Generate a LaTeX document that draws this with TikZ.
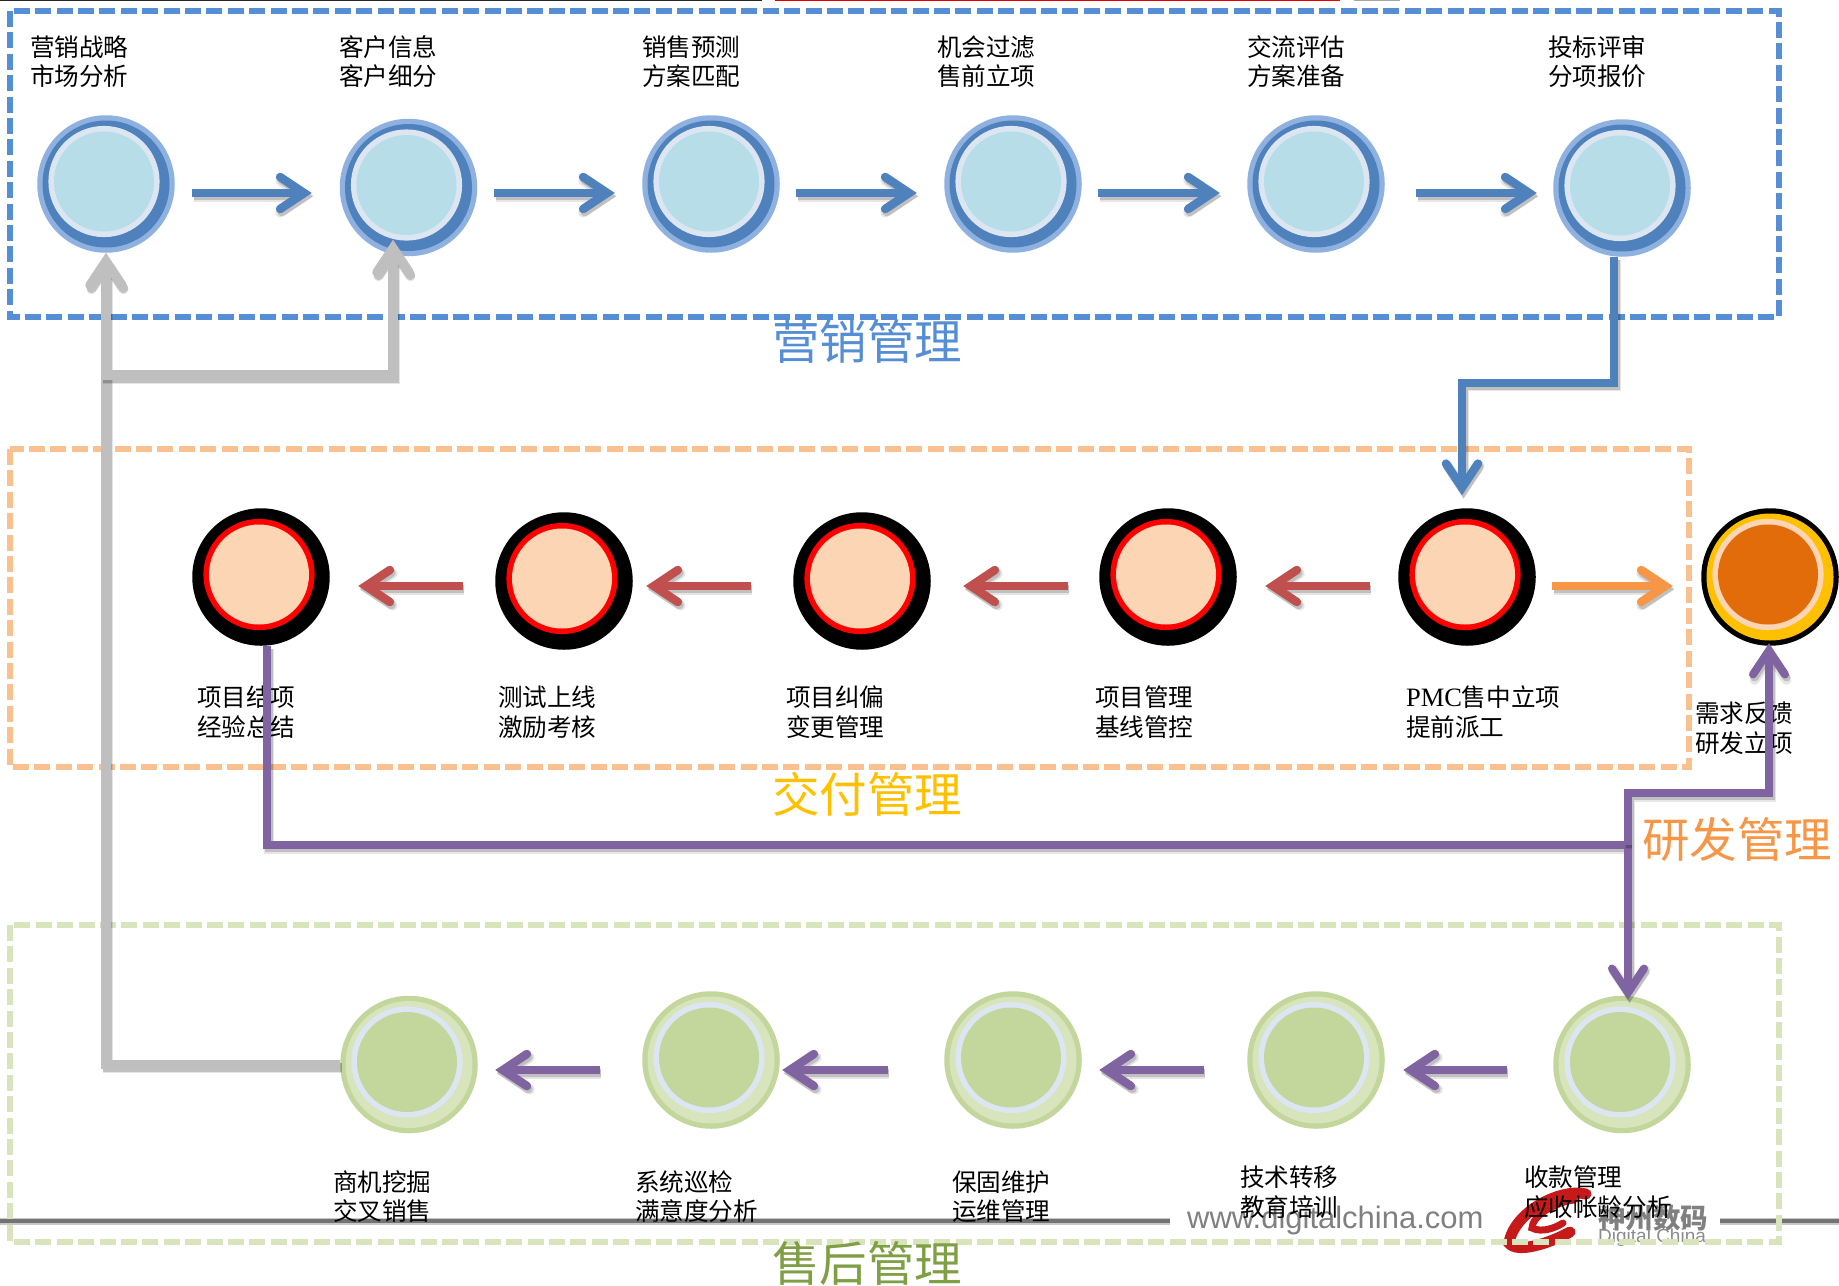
\documentclass[tikz,border=0pt]{standalone}
\usepackage{fontspec}
\setmainfont{Noto Sans CJK SC}
\newfontfamily\latinserif{Liberation Serif}
\newfontfamily\latinsans{Liberation Sans}
\usetikzlibrary{arrows.meta}
\definecolor{mblue}{HTML}{558ED5}
\definecolor{aBlue}{HTML}{4F81BD}
\definecolor{lBlue}{HTML}{8EB1E0}
\definecolor{pale}{HTML}{DCE6F2}
\definecolor{cyanin}{HTML}{B7DDE8}
\definecolor{mOrange}{HTML}{FAC090}
\definecolor{peach}{HTML}{FCD5B5}
\definecolor{aRed}{HTML}{C0504D}
\definecolor{aOrange}{HTML}{F79646}
\definecolor{aPurple}{HTML}{8064A2}
\definecolor{gGreen}{HTML}{C3D69B}
\definecolor{lGreen}{HTML}{D7E4BC}
\definecolor{aGray}{HTML}{BFBFBF}
\definecolor{gold}{HTML}{FFC000}
\definecolor{deepor}{HTML}{E36C0A}
\definecolor{tGreen}{HTML}{7F9F45}
\tikzset{
  ball/.style n args={4}{circle,inner sep=0pt,outer sep=0pt,minimum size=137.5pt,fill=#1,
    path picture={
      \fill[#2] (path picture bounding box.center) circle[radius=63.5pt];
      \fill[#3] ([shift={(-2,-2.5)}]path picture bounding box.center) circle[radius=55.6pt];
      \fill[#4] ([shift={(-2,-2.5)}]path picture bounding box.center) circle[radius=50pt];
    }},
  blueball/.style={ball={lBlue}{aBlue}{pale}{cyanin}},
  blackball/.style={ball={black}{black}{red}{peach}},
  greenball/.style={ball={gGreen}{lGreen}{pale}{gGreen}},
  orangeball/.style={ball={black}{gold}{peach}{deepor}},
  zone/.style={line width=5.5pt,dash pattern=on 16pt off 5.4pt},
  lbl/.style={align=left,inner sep=0pt,outer sep=0pt,anchor=west,text=black,
    font=\fontsize{24.6pt}{29.5pt}\selectfont},
  biglbl/.style={inner sep=0pt,outer sep=0pt,font=\fontsize{47.5pt}{50pt}\selectfont},
  flow/.style={line width=8.5pt,-{Straight Barb[length=24pt,width=32pt,line cap=round,line join=miter]}},
  plainline/.style={line width=8pt,line join=miter},
}
\newcommand\conn[2]{%
  \draw[#1,draw=black,opacity=.10,line cap=butt,line width=10pt,transform canvas={shift={(1.5pt,-3.5pt)}}] #2;
  \draw[#1,draw=black,opacity=.16,line cap=butt,transform canvas={shift={(1.5pt,-3pt)}}] #2;
  \draw[#1] #2;}
\begin{document}
\begin{tikzpicture}[x=1pt,y=-1pt]
\useasboundingbox (0,0) rectangle (1839,1285);
\fill[white] (0,0) rectangle (1839,1285);
% top edge rules
\draw[line width=1.5pt,black!85] (0,0.7) -- (762,0.7);
\draw[line width=1.5pt,red!90!black] (775,0.7) -- (1340,0.7);
\draw[line width=1.5pt,black!35] (1354,0.7) -- (1400,0.7);
% footer
\draw[line width=7pt,black!22] (0,1221) -- (1170,1221);
\draw[line width=3.5pt,black!55] (0,1221) -- (1170,1221);
\draw[line width=7pt,black!22] (1720,1221) -- (1839,1221);
\draw[line width=3.5pt,black!55] (1720,1221) -- (1839,1221);
\node[inner sep=0pt,anchor=west,text=black!50,font=\latinsans\fontsize{31pt}{32pt}\selectfont] (web) at (1187,1220) {www.digitalchina.com};
\draw[line width=11pt,line cap=round,red!75!black!90] (1586,1194) .. controls (1560,1188) and (1514,1212) .. (1509,1243) .. controls (1517,1254) and (1550,1243) .. (1570,1232);
\draw[line width=7pt,line cap=round,red!75!black!90] (1574,1200) .. controls (1555,1202) and (1532,1216) .. (1532,1228) .. controls (1542,1233) and (1555,1228) .. (1563,1223);
\node[inner sep=0pt,anchor=west,text=black!50,font=\bfseries\fontsize{27.5pt}{28pt}\selectfont] (logoa) at (1598,1218) {神州数码};
\node[inner sep=0pt,anchor=west,text=black!45,font=\latinsans\fontsize{19pt}{20pt}\selectfont] (logob) at (1598,1238) {Digital China};
% zones
\draw[zone,mblue] (10,11) rectangle (1779,317);
\draw[zone,mOrange] (10,449) rectangle (1689,767);
\draw[zone,lGreen] (10,925) rectangle (1779,1242);
% circles
\node[blueball] (a1) at (106,184) {};
\node[blueball] (a2) at (408.5,187.5) {};
\node[blueball] (a3) at (711,184) {};
\node[blueball] (a4) at (1013,184) {};
\node[blueball] (a5) at (1316,184) {};
\node[blueball] (a6) at (1622,188) {};
\node[blackball] (d1) at (261,577) {};
\node[blackball] (d2) at (564,581) {};
\node[blackball] (d3) at (862,581) {};
\node[blackball] (d4) at (1168,577) {};
\node[blackball] (d5) at (1467,577) {};
\node[orangeball] (d6) at (1770,577) {};
\node[greenball] (c1) at (409,1064.5) {};
\node[greenball] (c2) at (711,1060) {};
\node[greenball] (c3) at (1013,1060) {};
\node[greenball] (c4) at (1316,1060) {};
\node[greenball] (c5) at (1622,1064.5) {};
% labels
\node[lbl] (ta1) at (30,61.5) {营销战略\\市场分析};
\node[lbl] (ta2) at (339,61.5) {客户信息\\客户细分};
\node[lbl] (ta3) at (642,61.5) {销售预测\\方案匹配};
\node[lbl] (ta4) at (937,61.5) {机会过滤\\售前立项};
\node[lbl] (ta5) at (1247,61.5) {交流评估\\方案准备};
\node[lbl] (ta6) at (1548,61.5) {投标评审\\分项报价};
\node[lbl] (td1) at (197,712) {项目结项\\经验总结};
\node[lbl] (td2) at (498,712) {测试上线\\激励考核};
\node[lbl] (td3) at (786,712) {项目纠偏\\变更管理};
\node[lbl] (td4) at (1095,712) {项目管理\\基线管控};
\node[lbl] (td5) at (1406,712) {{\latinserif\fontsize{26.5pt}{29.5pt}\selectfont PMC}售中立项\\提前派工};
\node[lbl] (td6) at (1695,728) {需求反馈\\研发立项};
\node[lbl] (tc1) at (333,1196.5) {商机挖掘\\交叉销售};
\node[lbl] (tc2) at (635,1196.5) {系统巡检\\满意度分析};
\node[lbl] (tc3) at (952,1196.5) {保固维护\\运维管理};
\node[lbl] (tc4) at (1240,1192) {技术转移\\教育培训};
\node[lbl] (tc5) at (1524,1192) {收款管理\\应收帐龄分析};
\node[biglbl,text=mblue] (za) at (867,341) {营销管理};
\node[biglbl,text=gold] (zd) at (867,794) {交付管理};
\node[biglbl,text=aOrange] (zr) at (1737,839) {研发管理};
\node[biglbl,text=tGreen] (zc) at (867,1263) {售后管理};
% top flow
\conn{flow,aBlue}{([shift={(17.5,9)}]a1.east) -- ([shift={(-28,5.5)}]a2.west)}
\conn{flow,aBlue}{([shift={(17,5.5)}]a2.east) -- ([shift={(-27.5,9)}]a3.west)}
\conn{flow,aBlue}{([shift={(16.5,9)}]a3.east) -- ([shift={(-27.5,9)}]a4.west)}
\conn{flow,aBlue}{([shift={(16.5,9)}]a4.east) -- ([shift={(-27.5,9)}]a5.west)}
\conn{flow,aBlue}{([shift={(31.5,9)}]a5.east) -- ([shift={(-16.5,5)}]a6.west)}
% delivery flow
\conn{flow,aRed}{([shift={(-28.5,9)}]d5.west) -- ([shift={(28.5,9)}]d4.east)}
\conn{flow,aRed}{([shift={(-31.5,9)}]d4.west) -- ([shift={(32.5,5)}]d3.east)}
\conn{flow,aRed}{([shift={(-42.5,5)}]d3.west) -- ([shift={(13.5,5)}]d2.east)}
\conn{flow,aRed}{([shift={(-32.5,5)}]d2.west) -- ([shift={(28.5,9)}]d1.east)}
\conn{flow,aOrange}{([shift={(16.5,9)}]d5.east) -- ([shift={(-28.5,9)}]d6.west)}
% after-sales flow
\conn{flow,aPurple}{([shift={(-46.5,5.5)}]c5.west) -- ([shift={(18.5,10)}]c4.east)}
\conn{flow,aPurple}{([shift={(-43.5,10)}]c4.west) -- ([shift={(17.5,10)}]c3.east)}
\conn{flow,aPurple}{([shift={(-56.5,10)}]c3.west) -- ([shift={(2.5,10)}]c2.east)}
\conn{flow,aPurple}{([shift={(-42.5,10)}]c2.west) -- ([shift={(17.5,5.5)}]c1.east)}
% elbows
\conn{flow,aBlue}{([xshift=-8pt]a6.south) -- ++(0,126) -| ([shift={(-5,-13)}]d5.north)}
\coordinate (gb) at (101,375);
\conn{flow,aGray,line width=9.5pt}{(c1.west) -| (a1.south)}
\conn{flow,aGray,line width=9.5pt}{(gb) -| ([shift={(-15.5,-16.5)}]a2.south)}
\coordinate (pj) at (1628,845);
\conn{plainline,aPurple}{([xshift=6pt]d1.south) |- (pj)}
\conn{flow,aPurple,line width=8pt}{(pj) -- ([shift={(6,4)}]c5.north)}
\conn{flow,aPurple,line width=8pt}{(pj) -- ++(0,-52) -| ([shift={(-1,-2.5)}]d6.south)}
\end{tikzpicture}
\end{document}
